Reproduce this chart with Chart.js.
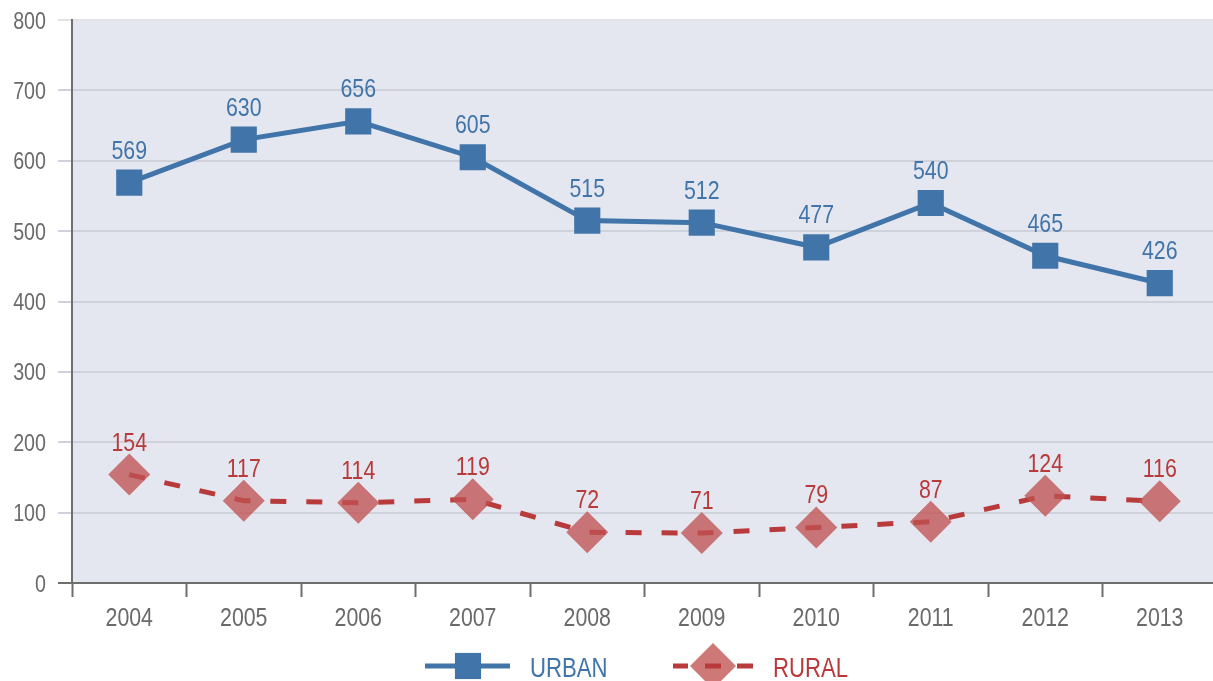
<!DOCTYPE html>
<html>
<head>
<meta charset="utf-8">
<script src="https://cdn.jsdelivr.net/npm/chart.js@4.4.1/dist/chart.umd.min.js"></script>
<style>
  html, body { margin: 0; padding: 0; background: #fff; overflow: hidden; }
  /* plot runs slightly past the right edge in the original */
  #wrap { width: 1217px; height: 681px; position: relative; }
</style>
</head>
<body>
<div id="wrap"><canvas id="mychart"></canvas></div>
<script>
// data
const years = ['2004', '2005', '2006', '2007', '2008', '2009', '2010', '2011', '2012', '2013'];
const urban = [569, 630, 656, 605, 515, 512, 477, 540, 465, 426];
const rural = [154, 117, 114, 119, 72, 71, 79, 87, 124, 116];
const yTicks = [0, 100, 200, 300, 400, 500, 600, 700, 800];

const FONT = "'Liberation Sans', Arial, sans-serif";
const SQUEEZE = 0.82; // the original uses a narrow face, so squeeze the text
const BLUE = '#4174a8';
const RED = '#b83a3b';
const RED_FILL = 'rgba(192, 82, 82, 0.78)';
const AXIS = '#6e6e6e';
const GRID = '#cfd2db';
const TEXT = '#6a6a6a';

function narrowText(ctx, txt, x, y, align, size, color) {
    ctx.save();
    ctx.font = size + 'px ' + FONT;
    ctx.fillStyle = color;
    ctx.textAlign = align;
    ctx.textBaseline = 'alphabetic';
    ctx.translate(x, y);
    ctx.scale(SQUEEZE, 1);
    ctx.fillText(txt, 0, 0);
    ctx.restore();
}

// fill the plot area
const plotBg = {
    id: 'plotBg',
    beforeDraw(chart) {
        const a = chart.chartArea, ctx = chart.ctx;
        ctx.save();
        ctx.fillStyle = '#e4e7f0';
        ctx.fillRect(a.left, a.top, a.right - a.left, a.bottom - a.top);
        ctx.restore();
    }
};

// tick labels, placed from the chart's own scales
const axisLabels = {
    id: 'axisLabels',
    afterDraw(chart) {
        const ctx = chart.ctx;
        const xs = chart.scales.x, ys = chart.scales.y;
        yTicks.forEach(v => {
            narrowText(ctx, String(v), ys.left + 46, ys.getPixelForValue(v) + 8.5, 'right', 24, TEXT);
        });
        years.forEach((lab, i) => {
            narrowText(ctx, lab, xs.getPixelForValue(i), xs.top + 43, 'center', 26, TEXT);
        });
    }
};

// value labels above the points
const valueLabels = {
    id: 'valueLabels',
    afterDatasetsDraw(chart) {
        const ctx = chart.ctx;
        chart.data.datasets.forEach((ds, i) => {
            const meta = chart.getDatasetMeta(i);
            meta.data.forEach((pt, j) => {
                narrowText(ctx, String(ds.data[j]), pt.x, pt.y - 24, 'center', 26, ds.labelColor);
            });
        });
    }
};

// legend with line + marker, like the original
const lineLegend = {
    id: 'lineLegend',
    afterDraw(chart) {
        const ctx = chart.ctx;
        const y = 666;
        const blue = chart.data.datasets[0];
        const red = chart.data.datasets[1];
        ctx.save();
        // urban
        ctx.lineWidth = blue.borderWidth;
        ctx.strokeStyle = blue.borderColor;
        ctx.beginPath();
        ctx.moveTo(425, y); ctx.lineTo(510, y);
        ctx.stroke();
        ctx.fillStyle = blue.pointBackgroundColor;
        Chart.helpers.drawPoint(ctx, { pointStyle: 'rect', radius: blue.pointRadius, rotation: 0, borderWidth: 0 }, 468, y);
        narrowText(ctx, blue.label, 530, y + 11, 'left', 27, blue.labelColor);
        // rural
        ctx.fillStyle = red.pointBackgroundColor;
        Chart.helpers.drawPoint(ctx, { pointStyle: 'rectRot', radius: 23, rotation: 0, borderWidth: 0 }, 713, y);
        ctx.lineWidth = red.borderWidth;
        ctx.strokeStyle = red.borderColor;
        ctx.beginPath();
        ctx.moveTo(673, y); ctx.lineTo(688, y);
        ctx.moveTo(705, y); ctx.lineTo(721, y);
        ctx.moveTo(737, y); ctx.lineTo(753, y);
        ctx.stroke();
        narrowText(ctx, red.label, 773, y + 11, 'left', 27, red.labelColor);
        ctx.restore();
    }
};

const data = {
    labels: years,
    datasets: [{
        label: 'URBAN',
        data: urban,
        borderColor: BLUE,
        borderWidth: 5,
        pointStyle: 'rect',
        pointRadius: 18.5,
        pointHoverRadius: 18.5,
        pointBackgroundColor: BLUE,
        pointBorderWidth: 0,
        labelColor: BLUE,
        tension: 0
    }, {
        label: 'RURAL',
        data: rural,
        borderColor: RED,
        borderWidth: 5,
        borderDash: [16, 20],
        pointStyle: 'rectRot',
        pointRadius: 21,
        pointHoverRadius: 21,
        pointBackgroundColor: RED_FILL,
        pointBorderWidth: 0,
        labelColor: RED,
        tension: 0
    }]
};

const config = {
    type: 'line',
    data,
    options: {
        responsive: true,
        maintainAspectRatio: false,
        animation: false,
        layout: { autoPadding: false, padding: { top: 20, right: 0, bottom: 52, left: 0 } },
        plugins: {
            legend: { display: false },
            tooltip: { enabled: false }
        },
        scales: {
            x: {
                offset: true,
                grid: {
                    offset: true,
                    drawOnChartArea: false,
                    drawTicks: true,
                    tickLength: 14,
                    tickWidth: 2,
                    tickColor: AXIS
                },
                border: { color: AXIS, width: 2 },
                ticks: { display: false },
                afterFit(scale) { scale.height = 46; }
            },
            y: {
                min: 0,
                max: 800,
                afterBuildTicks(scale) { scale.ticks = yTicks.map(v => ({ value: v })); },
                grid: {
                    color: ctx => {
                        if (!ctx.tick) return GRID;
                        if (ctx.tick.value === 0) return AXIS;
                        if (ctx.tick.value === 800) return '#e3e3e6';
                        return GRID;
                    },
                    lineWidth: 2,
                    tickLength: 14,
                    drawTicks: true
                },
                border: { color: AXIS, width: 2 },
                ticks: { display: false },
                afterFit(scale) { scale.width = 72; }
            }
        }
    },
    plugins: [plotBg, axisLabels, valueLabels, lineLegend]
};

let myChart = new Chart(document.getElementById('mychart'), config);
</script>
</body>
</html>
